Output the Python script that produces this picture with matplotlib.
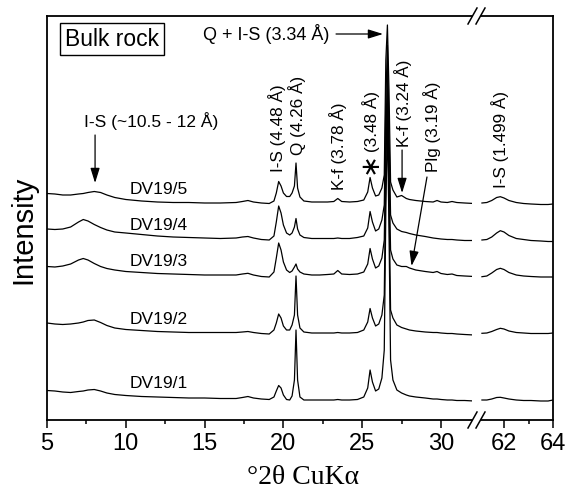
import matplotlib
matplotlib.use('Agg')
import matplotlib.pyplot as plt
from matplotlib.lines import Line2D

# ---------------- data ----------------
theta_left = [5.0, 5.5, 6.0, 6.5, 7.0, 7.3, 7.6, 8.0, 8.4, 8.8, 9.3, 10.0, 11.0, 12.0, 13.0,
              14.0, 15.0, 16.0, 17.0, 17.4, 17.75, 18.1, 18.6, 19.1, 19.4, 19.55, 19.7, 19.85,
              20.0, 20.2, 20.4, 20.55, 20.7, 20.8, 20.9, 21.05, 21.3, 21.8, 22.3, 22.8, 23.2,
              23.45, 23.7, 24.2, 24.7, 25.1, 25.35, 25.5, 25.65, 25.85, 26.05, 26.25, 26.4,
              26.5, 26.6, 26.7, 26.8, 26.95, 27.2, 27.5, 27.8, 28.0, 28.4, 29.0, 29.5, 29.75,
              30.0, 30.4, 30.7, 31.0, 31.5, 32.1]

dv5_left = [226.5, 226, 225, 225, 226, 226.5, 227.5, 228.5, 227.5, 225, 222.5, 220.5, 219, 218,
            217.5, 217.5, 217, 217, 217.5, 218.5, 219.5, 218, 217, 216.5, 219, 227, 238.5, 234,
            227, 223.5, 223.5, 227, 234, 257, 232, 223, 219, 218, 218, 218, 218.5, 221.5, 218.5,
            218, 218.5, 220, 228, 242.5, 232, 224, 225, 232, 245, 360, 395, 330, 238, 230, 223,
            224.5, 221.5, 220.5, 219.5, 218.5, 218, 219.5, 218, 217.5, 218.5, 217.5, 217, 216.5]

dv4_left = [191, 190.5, 191, 193, 198, 200.5, 199, 195.5, 192.5, 190, 188, 187, 185.5, 184, 183,
            182.5, 182, 181.5, 182, 183, 183.5, 182, 180.5, 180, 184, 198, 214, 207, 195, 187,
            185, 187, 193, 201.5, 191, 185, 182.5, 181.5, 181.5, 181.5, 181.5, 182, 181.5, 181.5,
            182.5, 184, 192, 208.5, 198, 189, 191, 200, 215, 320, 375, 290, 205, 197, 191, 188.5,
            187.5, 186.5, 185, 183.5, 182, 181.5, 181, 180.5, 180.5, 180, 179.5, 179.5]

dv3_left = [153.5, 153, 154, 156, 160, 161.5, 160, 156.5, 153.5, 151.5, 150, 148.5, 147.5, 146.5,
            146, 145.5, 145, 145, 145, 146, 146.7, 145, 143.5, 143, 148, 162, 177, 170, 158, 150,
            147.5, 149, 153, 156, 151, 148, 146, 145, 145, 145.5, 146, 149.5, 146, 145.5, 146,
            148, 156, 171.5, 161, 152, 154, 162, 180, 280, 350, 255, 170, 161, 155, 153.5, 153.5,
            152, 150, 148.5, 147.5, 148.5, 146.5, 145.5, 146, 144.5, 144, 143.5]

dv2_left = [97, 96, 95.5, 96, 97, 98, 99.5, 100, 97.5, 94.5, 92, 90.5, 89.5, 88.5, 88, 87.5, 87.5,
            87.5, 87.5, 88, 88.5, 87.5, 86.5, 86, 90, 97, 106, 102, 94, 90, 90, 95, 105, 144, 105,
            92, 88, 87, 87, 87, 87, 87.5, 87, 87, 87.5, 90, 98, 111.5, 102, 94, 96, 105, 125, 250,
            330, 225, 110, 102, 95, 92.5, 91, 90, 89, 88, 87.5, 87.5, 87, 86.5, 86.5, 86, 85.5, 85]

dv1_left = [29.5, 29, 28, 27.5, 28.5, 29, 30, 30.5, 29, 27, 25.5, 24.5, 23.5, 23, 22.5, 22, 22,
            21.5, 21.5, 22.5, 23.5, 22, 21, 20.5, 23, 29, 34.5, 32, 25, 20.5, 20, 24, 40, 90, 40,
            23, 20, 20, 20, 20, 20, 20.5, 20, 20, 20.5, 23, 32, 50, 38, 29, 31, 42, 70, 210, 300,
            190, 60, 40, 30, 27, 25, 24, 23, 22, 21, 21, 20.5, 20, 20, 19.5, 19.5, 19]

theta_right = [61.1, 61.3, 61.5, 61.7, 61.85, 62.0, 62.2, 62.5, 62.8, 63.1, 63.5, 63.8, 64.0]
dv5_right = [217, 217.5, 219.5, 222.5, 223.3, 222, 219.5, 217.5, 216.5, 216, 215.5, 215.5, 216]
dv4_right = [180, 180.5, 183, 187, 189.3, 188, 184.5, 181.5, 180.5, 179.5, 179, 178.5, 178.5]
dv3_right = [143.3, 144, 147, 150.5, 151.7, 150.5, 147.5, 145, 144, 143.5, 143, 143, 143]
dv2_right = [86.7, 87, 88.5, 90.5, 91.7, 91, 89, 87.5, 87, 86.5, 86.5, 86.5, 87]
dv1_right = [20, 20, 21, 22.5, 22.7, 22, 21, 20, 19.5, 19.5, 19, 19, 20]

sample_names = ["DV19/5", "DV19/4", "DV19/3", "DV19/2", "DV19/1"]
sample_label_y = [231, 195, 158, 101, 37]

left_ticks = [5, 10, 15, 20, 25, 30]
left_minor = [7.5, 12.5, 17.5, 22.5, 27.5]
right_ticks = [62, 64]
right_minor = [63]

# ---------------- figure ----------------
W, H = 569, 491
fig = plt.figure(figsize=(W / 100, H / 100), dpi=100)
SANS = 'Liberation Sans'
SERIF = 'Liberation Serif'


def fx(px):
    return px / W


def fy(py):
    return 1 - py / H


top, bot = 16, 420
L1, R1 = 47, 472.5
L2, R2 = 480.5, 553
ax1 = fig.add_axes([fx(L1), fy(bot), fx(R1) - fx(L1), fy(top) - fy(bot)])
ax2 = fig.add_axes([fx(L2), fy(bot), fx(R2) - fx(L2), fy(top) - fy(bot)])

ax1.set_xlim(5, 5 + (R1 - L1) / 15.76)
ax2.set_xlim(62 - (504 - L2) / 24.5, 64)
for ax in (ax1, ax2):
    ax.set_ylim(0, 404)
    ax.set_yticks([])
    for s in ax.spines.values():
        s.set_linewidth(1.3)
    ax.tick_params(axis='x', which='major', direction='out', length=6, width=1.1,
                   labelsize=17, pad=3)
    ax.tick_params(axis='x', which='minor', direction='out', length=3, width=1.1)
ax1.spines['right'].set_visible(False)
ax2.spines['left'].set_visible(False)
ax1.set_xticks(left_ticks)
ax1.set_xticks(left_minor, minor=True)
ax2.set_xticks(right_ticks)
ax2.set_xticks(right_minor, minor=True)
ax1.set_xticklabels([str(t) for t in left_ticks], family=SANS, fontsize=17)
ax2.set_xticklabels([str(t) for t in right_ticks], family=SANS, fontsize=17)

for yl, yr in [(dv5_left, dv5_right), (dv4_left, dv4_right), (dv3_left, dv3_right),
               (dv2_left, dv2_right), (dv1_left, dv1_right)]:
    ax1.plot(theta_left, yl, color='k', lw=0.9)
    ax2.plot(theta_right, yr, color='k', lw=0.9)

# sample labels
for name, y in zip(sample_names, sample_label_y):
    ax1.text(10.27, y, name, ha='left', va='center', fontsize=12.5, family=SANS)

# Bulk rock box
ax1.text(9.12, 381, 'Bulk rock', ha='center', va='center', fontsize=16.5, family=SANS,
         bbox=dict(boxstyle='square,pad=0.2', fc='white', ec='k', lw=1))

ap = dict(arrowstyle='-|>,head_length=0.45,head_width=0.14', color='k', lw=0.9,
          shrinkA=0, shrinkB=0, mutation_scale=20)

# Q + I-S label
ax1.text(22.9, 386, 'Q + I-S (3.34 Å)', ha='right', va='center', fontsize=13, family=SANS)
ax1.annotate('', xy=(26.32, 386), xytext=(23.34, 386), arrowprops=ap)

# I-S (~10.5 - 12 Å)
ax1.text(11.63, 299, 'I-S (~10.5 - 12 Å)', ha='center', va='center', fontsize=12.5, family=SANS)
ax1.annotate('', xy=(8.05, 237), xytext=(8.05, 285), arrowprops=ap)

# rotated peak labels
rot = dict(rotation=90, ha='center', va='bottom', fontsize=12.3, family=SANS)
ax1.text(19.6, 248, 'I-S (4.48 Å)', **rot)
ax1.text(20.86, 265, 'Q (4.26 Å)', **rot)
ax1.text(23.46, 230, 'K-f (3.78 Å)', **rot)
ax1.text(25.45, 257.5, '∗', rotation=90, ha='center', va='center', fontsize=19,
         family='DejaVu Sans')
ax1.text(25.53, 268, '(3.48 Å)', **rot)
ax1.text(27.59, 273, 'K-f (3.24 Å)', **rot)
ax1.text(29.43, 248, 'Plg (3.19 Å)', **rot)
ax2.text(61.84, 232, 'I-S (1.499 Å)', **rot)

# K-f and Plg arrows
ax1.annotate('', xy=(27.53, 227), xytext=(27.53, 270), arrowprops=ap)
ax1.annotate('', xy=(28.13, 154), xytext=(29.11, 243), arrowprops=ap)

# axis labels
fig.text(fx(23), fy(230), 'Intensity', rotation=90, ha='center', va='center',
         fontsize=21, family=SANS)
fig.text(fx(303.5), fy(477), '°2θ CuKα', ha='center', va='center', fontsize=20, family=SERIF)

# break marks
for yc in (top, bot):
    for xc in (R1, L2):
        fig.add_artist(Line2D([fx(xc - 4.5), fx(xc + 4.5)], [fy(yc + 8), fy(yc - 8)],
                              transform=fig.transFigure, color='k', lw=1.1))

fig.savefig('out.png', dpi=100)
